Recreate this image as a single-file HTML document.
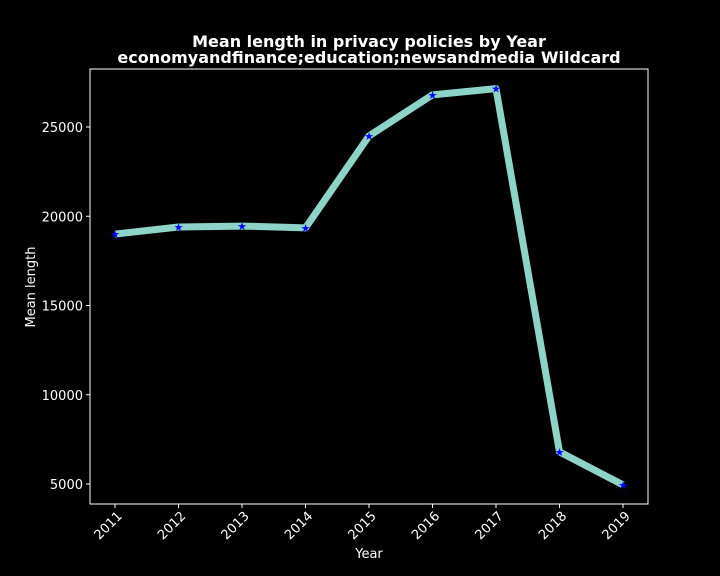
<!DOCTYPE html>
<html><head><meta charset="utf-8"><style>
body{margin:0;background:#000;}
svg{display:block;font-family:"DejaVu Sans","Liberation Sans",sans-serif;}
</style></head><body>
<svg id="chart" width="720" height="576">
<rect width="720" height="576" fill="#000"/>
<text x="369" y="47" fill="#fff" font-size="16" font-weight="bold" text-anchor="middle">Mean length in privacy policies by Year</text>
<text x="369" y="63" fill="#fff" font-size="16" font-weight="bold" text-anchor="middle">economyandfinance;education;newsandmedia Wildcard</text>
<rect x="90" y="69" width="558" height="435" fill="none" stroke="#fff" stroke-width="1"/>
<g id="xt"></g><g id="yt"></g><g id="series"></g>
<text x="369" y="558" fill="#fff" font-size="13" text-anchor="middle">Year</text>
<text transform="translate(35,287) rotate(-90)" fill="#fff" font-size="13" text-anchor="middle">Mean length</text>
</svg>
<script>
const years = ["2011","2012","2013","2014","2015","2016","2017","2018","2019"];
const meanLength = [19000, 19400, 19450, 19350, 24500, 26800, 27150, 6800, 4950];
const yTicks = [5000, 10000, 15000, 20000, 25000];
const NS="http://www.w3.org/2000/svg";
function x(i){return 115+i*(623-115)/(years.length-1);}
function y(v){return 484-(v-5000)*89.25/5000;}
function mk(t,a,p){const e=document.createElementNS(NS,t);for(const k in a)e.setAttribute(k,a[k]);p.appendChild(e);return e;}
const xt=document.getElementById('xt'),yt=document.getElementById('yt'),s=document.getElementById('series');
years.forEach((yr,i)=>{
  const l=mk('line',{x1:x(i),x2:x(i),y1:504,y2:508,stroke:'#fff'},xt);
  
  
  const t=mk('text',{x:x(i)+5,y:518,fill:'#fff','font-size':13,'text-anchor':'end',transform:`rotate(-45 ${x(i)+5} 514)`},xt);
  t.textContent=yr;
  
  
});
yTicks.forEach(v=>{
  const l=mk('line',{x1:86,x2:90,y1:y(v),y2:y(v),stroke:'#fff'},yt);
  
  
  const t=mk('text',{x:83,y:y(v)+5,fill:'#fff','font-size':13,'text-anchor':'end'},yt);
  t.textContent=v;
  
  
});
const pl=mk('polyline',{points:meanLength.map((v,i)=>x(i)+','+y(v)).join(' '),fill:'none',stroke:'#8dd3c7','stroke-width':7,'stroke-linejoin':'round'},s);


meanLength.forEach((v,i)=>{
  const m=mk('text',{x:x(i),y:y(v)+4,fill:'#0000ff','font-size':11,'text-anchor':'middle'},s);
  m.textContent='★';
  
  
});
</script>
</body></html>
